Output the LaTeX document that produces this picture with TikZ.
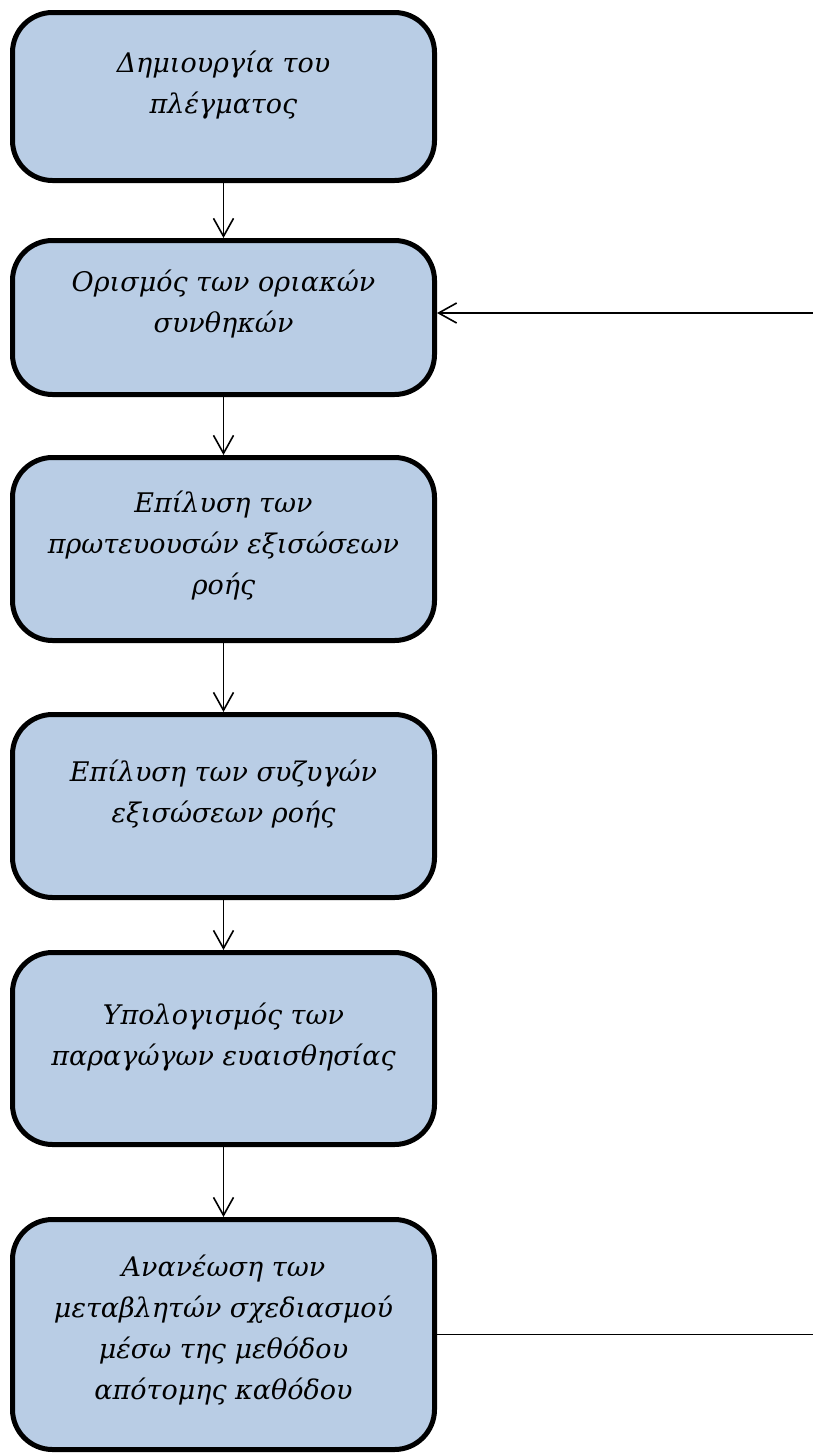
\documentclass[tikz,border=0pt]{standalone}
\usepackage{fontspec}
\setmainfont{DejaVu Serif}
\usepackage{xcolor}
\usetikzlibrary{positioning,arrows.meta}
\definecolor{boxblue}{HTML}{B9CDE5}

\begin{document}
\begin{tikzpicture}[x=1pt,y=-1pt,
    every node/.style={font=\itshape\fontsize{27}{41}\selectfont},
    box/.style={rectangle,draw,line width=5pt,rounded corners=40pt,fill=boxblue,minimum width=422pt,inner sep=0pt},
    txt/.style={align=center,inner sep=0pt},
    flow/.style={-{Straight Barb[length=18pt,width=20pt]},line width=1.6pt}
]
\useasboundingbox (0,0) rectangle (813,1454);

% Boxes (absolute positions)
\node[box,minimum height=168pt] (mesh)    at (223.5,96.5)  {};
\node[box,minimum height=154pt] (bcs)     at (223.5,317.5) {};
\node[box,minimum height=183pt] (primal)  at (223.5,549)   {};
\node[box,minimum height=183pt] (adjoint) at (223.5,806)   {};
\node[box,minimum height=192pt] (sens)    at (223.5,1048.5) {};
\node[box,minimum height=230pt] (update)  at (223.5,1334.5) {};

% Texts inside the boxes
\node[txt] (meshtxt)    at (223.5,85)    {Δημιουργία του\\πλέγματος};
\node[txt] (bcstxt)     at (223.5,304)   {Ορισμός των οριακών\\συνθηκών};
\node[txt] (primaltxt)  at (223.5,545.5) {Επίλυση των\\πρωτευουσών εξισώσεων\\ροής};
\node[txt] (adjointtxt) at (223.5,794)   {Επίλυση των συζυγών\\εξισώσεων ροής};
\node[txt] (senstxt)    at (223.5,1037)  {Υπολογισμός των\\παραγώγων ευαισθησίας};
\node[txt] (updatetxt)  at (223.5,1330)  {Ανανέωση των\\μεταβλητών σχεδιασμού\\μέσω της μεθόδου\\απότομης καθόδου};

% Loop ends at the right edge
\coordinate (loopin)  at (813,313);
\coordinate (loopout) at (813,1334.5);

% Main flow
\draw[flow] (mesh) -- (bcs);
\draw[flow] (bcs) -- (primal);
\draw[flow] (primal) -- (adjoint);
\draw[flow] (adjoint) -- (sens);
\draw[flow] (sens) -- (update);

% Feedback
\draw[flow] (loopin) -- (bcs.east |- loopin);
\draw[line width=1.6pt] (update.east) -- (loopout);

\end{tikzpicture}
\end{document}
